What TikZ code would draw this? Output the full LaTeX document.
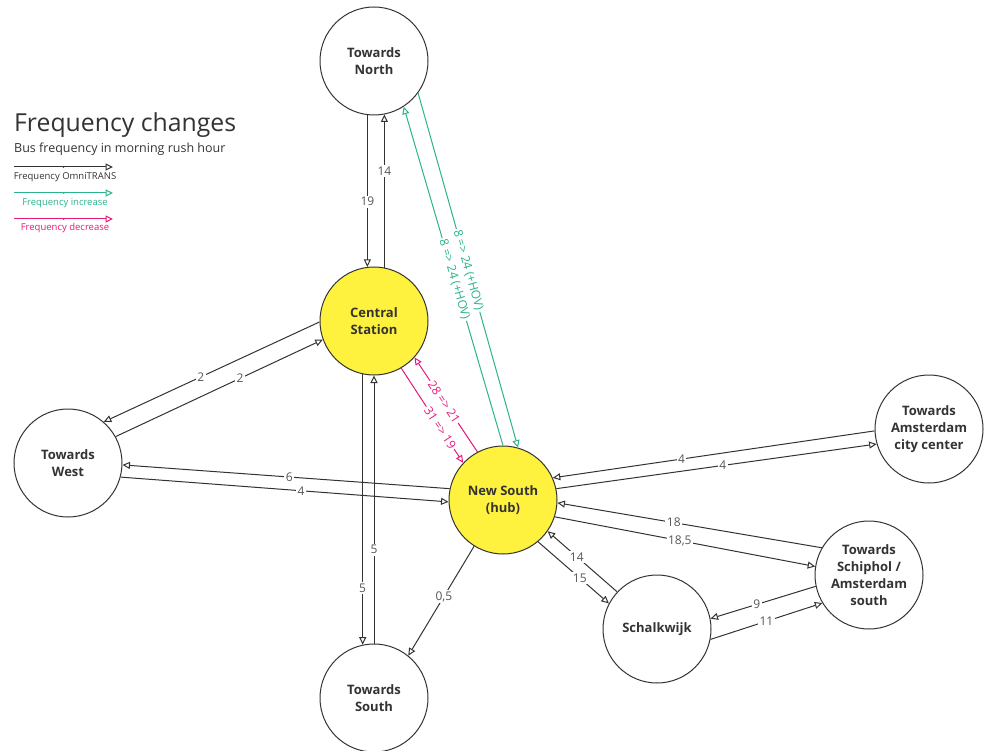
\documentclass[tikz,border=0pt]{standalone}
\usepackage{fontspec}
\setmainfont{Open Sans}
\usetikzlibrary{arrows.meta}
\definecolor{ink}{HTML}{333333}
\definecolor{lbl}{HTML}{555555}
\definecolor{hub}{HTML}{FFF23F}
\definecolor{incr}{HTML}{2BB38E}
\definecolor{decr}{HTML}{E6197A}
\tikzset{
  place/.style={circle, draw=ink, line width=1pt, minimum size=108pt, inner sep=0pt,
    align=center, text=ink, font=\fontsize{13}{17}\selectfont\bfseries},
  hubplace/.style={place, fill=hub},
  flow/.style={draw=ink, line width=1pt, -{Triangle[open, length=7.5pt, width=7pt]}},
  flowup/.style={flow, draw=incr},
  flowdown/.style={flow, draw=decr},
  lab/.style={fill=white, inner sep=1.5pt, text=lbl, font=\fontsize{12}{14}\selectfont},
  glab/.style={lab, sloped, text=incr},
  plab/.style={lab, sloped, text=decr},
  legtext/.style={inner sep=0pt, font=\fontsize{9.5}{11}\selectfont},
  waypt/.style={circle, fill, inner sep=0pt, minimum size=2pt},
}
\begin{document}
\begin{tikzpicture}[x=1pt,y=-1pt]
\useasboundingbox (0,0) rectangle (984,751);

% legend
\node[anchor=base west, inner sep=0pt, text=ink, font=\fontsize{24.8}{30}\selectfont] (title) at (14,132) {Frequency changes};
\node[anchor=base west, inner sep=0pt, text=ink, font=\fontsize{12.5}{15}\selectfont] (subtitle) at (14,153) {Bus frequency in morning rush hour};
\coordinate (l1a) at (14,167); \coordinate (l1b) at (113,167);
\coordinate (l2a) at (14,193); \coordinate (l2b) at (113,193);
\coordinate (l3a) at (14,219); \coordinate (l3b) at (113,219);
\draw[flow] (l1a) -- node[waypt, fill=ink]{} (l1b);
\draw[flowup] (l2a) -- node[waypt, fill=incr]{} (l2b);
\draw[flowdown] (l3a) -- node[waypt, fill=decr]{} (l3b);
\node[legtext, text=ink] (t1) at (65,177) {Frequency OmniTRANS};
\node[legtext, text=incr] (t2) at (65,203) {Frequency increase};
\node[legtext, text=decr] (t3) at (65,228) {Frequency decrease};

% places
\node[place] (north) at (374,61) {Towards\\North};
\node[hubplace] (cs) at (374,321) {Central\\Station};
\node[place] (west) at (68,463) {Towards\\West};
\node[hubplace] (ns) at (503,500) {New South\\(hub)};
\node[place] (acc) at (929,429) {Towards\\Amsterdam\\city center};
\node[place] (sch) at (869,575) {Towards\\Schiphol /\\Amsterdam\\south};
\node[place] (swk) at (657,629) {Schalkwijk};
\node[place] (south) at (374,698) {Towards\\South};

% North - Central Station
\draw[flow] (north.-97.4) -- node[lab,pos=0.57]{19} (cs.97.4);
\draw[flow] (cs.79.3) -- node[lab,pos=0.63]{14} (north.-79.3);

% North - New South (increase)
\draw[flowup] (north.-36) -- node[glab,pos=0.5]{8 => 24 (+HOV)} (ns.74);
\draw[flowup] (ns.90) -- node[glab,pos=0.49]{8 => 24 (+HOV)} (north.-57);

% Central Station - New South (decrease)
\draw[flowdown] (cs.-60.3) -- node[plab,pos=0.63]{31 => 19} (ns.137.2);
\draw[flowdown] (ns.118.9) -- node[plab,pos=0.53]{28 => 21} (cs.-42.9);

% West - Central Station
\draw[flow] (cs.181) -- node[lab,pos=0.55]{2} (west.49.5);
\draw[flow] (west.29.9) -- node[lab,pos=0.6]{2} (cs.200.4);

% West - New South
\draw[flow] (ns.168.7) -- node[lab,pos=0.49]{6} (west.-2.1);
\draw[flow] (west.-15.8) -- node[lab,pos=0.55]{4} (ns.182.1);

% Central Station - South
\draw[flow] (cs.-102.8) -- node[lab,pos=0.79]{5} (south.102.8);
\draw[flow] (south.90) -- node[lab,pos=0.35]{5} (cs.-90);

% New South - South
\draw[flow] (ns.-122) -- node[lab,pos=0.46]{0,5} (south.51);

% New South - Amsterdam city center
\draw[flow] (acc.182.1) -- node[lab,pos=0.6]{4} (ns.24.7);
\draw[flow] (ns.12.5) -- node[lab,pos=0.52]{4} (acc.196.5);

% New South - Schiphol
\draw[flow] (sch.150.5) -- node[lab,pos=0.56]{18} (ns.-3.1);
\draw[flow] (ns.-18.4) -- node[lab,pos=0.48]{18,5} (sch.171.6);

% New South - Schalkwijk
\draw[flow] (swk.137.9) -- node[lab,pos=0.58]{14} (ns.-35.7);
\draw[flow] (ns.-50.9) -- node[lab,pos=0.59]{15} (swk.152);

% Schalkwijk - Schiphol
\draw[flow] (sch.192.5) -- node[lab,pos=0.56]{9} (swk.11.7);
\draw[flow] (swk.-11.7) -- node[lab,pos=0.5]{11} (sch.211.3);
\end{tikzpicture}
\end{document}
